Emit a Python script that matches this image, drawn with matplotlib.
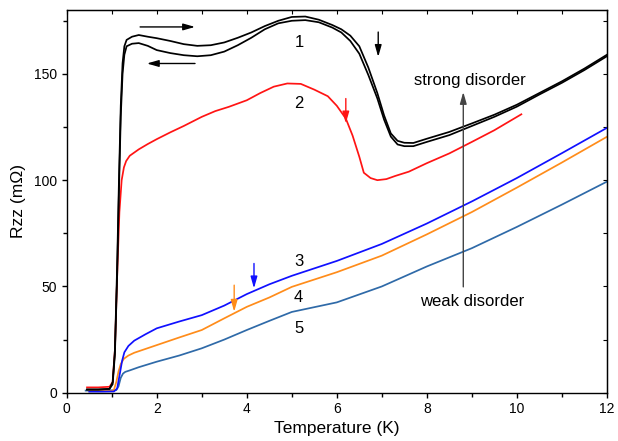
import matplotlib
matplotlib.use("Agg")
import matplotlib.pyplot as plt
from matplotlib.ticker import MultipleLocator

plt.rcParams['font.family'] = ['Liberation Sans', 'DejaVu Sans']

# Curve 1 - heating (upper branch)
t1_up = [0.45, 0.7, 0.95, 1.02, 1.07, 1.12, 1.16, 1.2, 1.24, 1.28, 1.33, 1.45, 1.6, 1.8, 2.0,
         2.3, 2.6, 2.9, 3.2, 3.5, 3.8, 4.1, 4.4, 4.7, 5.0, 5.3, 5.6, 5.9, 6.1, 6.3, 6.5, 6.7,
         6.9, 7.05, 7.2, 7.35, 7.5, 7.7, 8.0, 8.5, 9.0, 9.5, 10.0, 10.5, 11.0, 11.5, 12.0]
r1_up = [1.5, 1.5, 1.8, 5, 20, 60, 100, 135, 155, 163, 166, 167.5, 168.3, 167.5, 166.8,
         165.5, 164, 163.2, 163.5, 164.8, 167, 169.5, 172.5, 175, 176.8, 177, 175.5, 173, 171, 168, 163, 153,
         141, 130.5, 122, 118.5, 117.6, 117.5, 119.5, 122.7, 126.7, 130.8, 135.5, 141, 146.5, 152.5, 159]
# Curve 1 - cooling (lower branch)
t1_dn = t1_up
r1_dn = [1.5, 1.5, 1.8, 4, 18, 55, 95, 130, 150, 159, 163, 164.2, 164.5, 163.2, 161.2,
         159.8, 158.8, 158.3, 158.8, 160.5, 163.5, 167, 171, 173.8, 175, 175.3, 174.3, 171.8, 169.5, 165.5, 159.5, 149.5,
         138.5, 128.5, 120.5, 116.8, 116.0, 116.0, 118.0, 121.2, 125.5, 129.8, 134.6, 140.3, 145.8, 151.8, 158.3]

# Curve 2
t2 = [0.45, 0.7, 0.95, 1.02, 1.07, 1.12, 1.17, 1.22, 1.27, 1.32, 1.4, 1.6, 1.8, 2.0, 2.3, 2.6,
      3.0, 3.3, 3.6, 4.0, 4.3, 4.6, 4.9, 5.2, 5.5, 5.8, 6.0, 6.2, 6.35, 6.5, 6.6, 6.75, 6.9,
      7.1, 7.3, 7.6, 8.0, 8.5, 9.0, 9.5, 10.1]
r2 = [2.5, 2.5, 2.8, 5, 20, 55, 85, 100, 106, 109, 111.5, 114.5, 117, 119.3, 122.5, 125.5,
      129.8, 132.5, 134.5, 137.6, 141, 144, 145.5, 145.3, 142.6, 139.5, 135, 129, 121, 111,
      103.5, 101, 100, 100.5, 102, 104, 108, 112.6, 118, 123.5, 131]

# Curve 3
t3 = [0.5, 0.8, 1.05, 1.12, 1.18, 1.23, 1.28, 1.37, 1.5, 1.75, 2.0, 2.5, 3.0, 3.5, 4.0, 4.5,
      5.0, 6.0, 7.0, 8.0, 9.0, 10.0, 11.0, 12.0]
r3 = [0.5, 0.5, 0.6, 2, 9, 15, 19, 22, 24.5, 27.5, 30.3, 33.5, 36.5, 41, 46.4, 51,
      55, 62, 70, 79.6, 90, 101, 112.7, 124.6]

# Curve 4
t4 = [0.5, 1.0, 1.05, 1.1, 1.15, 1.2, 1.27, 1.37, 1.5, 1.75, 2.0, 2.5, 3.0, 3.5, 4.0, 4.5,
      5.0, 6.0, 7.0, 8.0, 9.0, 10.0, 11.0, 12.0]
r4 = [0.8, 0.8, 1.5, 5, 10, 13.5, 16, 17.5, 18.8, 20.6, 22.4, 26, 29.5, 35, 40.4, 44.8,
      49.8, 56.7, 64.5, 74.5, 85, 96.5, 108.3, 120.4]

# Curve 5
t5 = [0.42, 0.8, 1.1, 1.15, 1.2, 1.25, 1.3, 1.4, 1.6, 2.0, 2.5, 3.0, 3.5, 4.0, 4.5, 5.0,
      6.0, 7.0, 8.0, 9.0, 10.0, 11.0, 12.0]
r5 = [1, 1, 1.2, 3, 7, 9, 9.8, 10.5, 12, 14.6, 17.5, 20.9, 25, 29.5, 33.8, 38,
      42.5, 50, 59.4, 68, 78, 88.5, 99.3]

curve_labels = ["1", "2", "3", "4", "5"]
label_pos = [(5.16, 165), (5.16, 136), (5.15, 61.6), (5.15, 44.8), (5.15, 30.3)]

c_red = "#ff1414"
c_blue = "#1010ff"
c_orange = "#ff8c1a"
c_steel = "#2f6aa8"

fig = plt.figure(figsize=(6.18, 4.41), dpi=100)
ax = fig.add_axes([0.108, 0.1095, 0.874, 0.8675])

LW = 1.25
ax.plot(t5, r5, color=c_steel, lw=LW)
ax.plot(t4, r4, color=c_orange, lw=LW)
ax.plot(t3, r3, color=c_blue, lw=LW)
ax.plot(t2, r2, color=c_red, lw=LW)
ax.plot(t1_up, r1_up, color="black", lw=LW)
ax.plot(t1_dn, r1_dn, color="black", lw=LW)

for lab, (x, y) in zip(curve_labels, label_pos):
    ax.text(x, y, lab, fontsize=12, ha="center", va="center")

ax.text(8.96, 147, "strong disorder", fontsize=12, ha="center", va="center")
ax.text(9.0, 42.8, "weak disorder", fontsize=12, ha="center", va="center")

def arrow(x0, y0, x1, y1, color, lw=1.0):
    ax.annotate("", xy=(x1, y1), xytext=(x0, y0),
                arrowprops=dict(arrowstyle="-|>,head_length=0.7,head_width=0.2", color=color, lw=lw,
                                mutation_scale=10, shrinkA=0, shrinkB=0))

arrow(1.63, 172.1, 2.85, 172.1, "black")
arrow(2.85, 154.9, 1.78, 154.9, "black")
arrow(6.92, 169.7, 6.92, 158, "black")
arrow(6.2, 138.4, 6.2, 126.7, c_red)
arrow(4.16, 60.8, 4.16, 49.1, c_blue)
arrow(3.72, 50.6, 3.72, 38.1, c_orange)
arrow(8.81, 49.8, 8.81, 141.5, "#444444", lw=1.0)

ax.set_xlim(0, 12)
ax.set_ylim(0, 180)
ax.xaxis.set_major_locator(MultipleLocator(2))
ax.xaxis.set_minor_locator(MultipleLocator(1))
ax.yaxis.set_major_locator(MultipleLocator(50))
ax.yaxis.set_minor_locator(MultipleLocator(25))
ax.tick_params(which="both", direction="out", top=False, right=False, labelsize=10, width=1)
ax.tick_params(which="major", length=3.5)
ax.tick_params(which="minor", length=3)

axt = ax.secondary_xaxis("top")
axt.xaxis.set_major_locator(MultipleLocator(1))
axt.tick_params(direction="in", length=3, labeltop=False)
axr = ax.secondary_yaxis("right")
axr.yaxis.set_major_locator(MultipleLocator(25))
axr.tick_params(direction="in", length=3, labelright=False)

for s in ax.spines.values():
    s.set_linewidth(1.0)

ax.set_xlabel("Temperature (K)", fontsize=12.5, labelpad=3)
ax.set_ylabel("Rzz (mΩ)", fontsize=12.5, labelpad=6)

fig.savefig("out.png", dpi=100)
